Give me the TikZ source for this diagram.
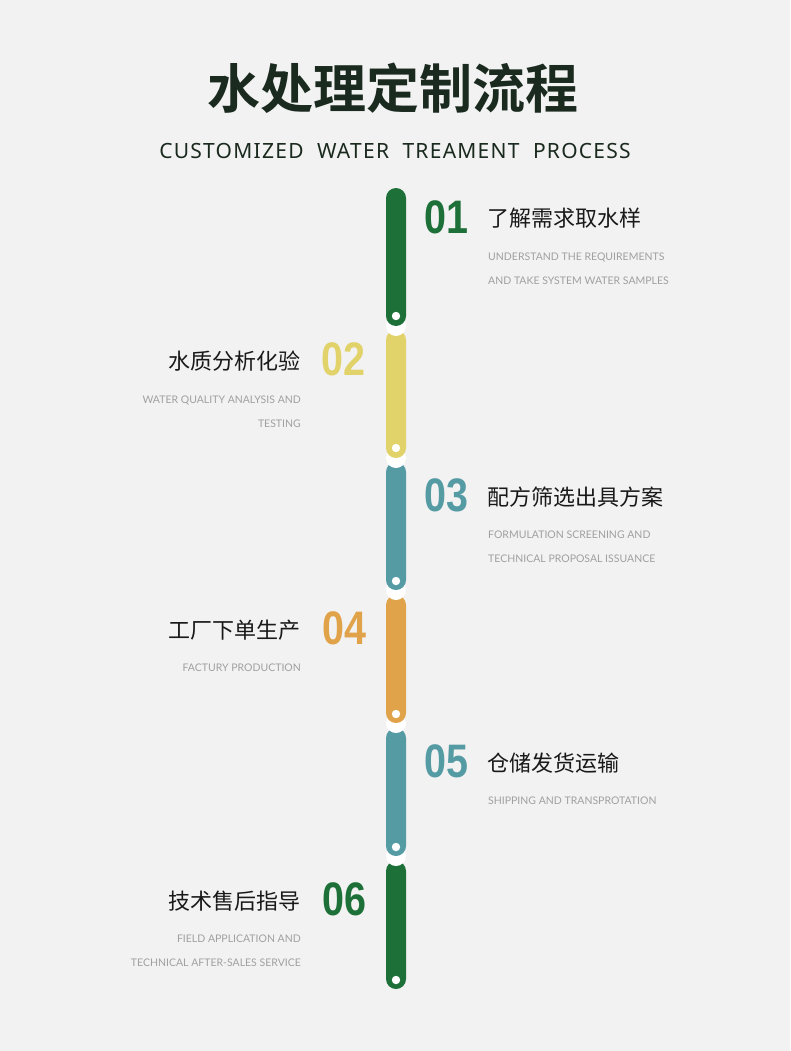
\documentclass[tikz,border=0pt]{standalone}
\usepackage{fontspec}
\setmainfont{Noto Sans}
\newfontfamily\cjk{Noto Sans CJK SC}
\newfontfamily\cjkb{Noto Sans CJK SC Bold}
\newfontfamily\lat{Lato}
\newfontfamily\numf{Liberation Sans}
\newfontfamily\subf{Noto Sans}[LetterSpace=6]
\definecolor{bg}{HTML}{F2F2F2}
\definecolor{cg}{HTML}{1E7039}
\definecolor{cy}{HTML}{E1D26A}
\definecolor{ct}{HTML}{559BA4}
\definecolor{co}{HTML}{E0A34A}
\definecolor{ink}{HTML}{1A2A1E}
\definecolor{gr}{HTML}{A0A0A0}
\tikzset{
 num/.style={font=\numf\fontsize{47}{47}\selectfont\bfseries, inner sep=0},
 zh/.style={font=\cjk\fontsize{22}{22}\selectfont, text=black!90, inner sep=0},
 en/.style={font=\lat\fontsize{10.5}{10.5}\selectfont, text=gr, inner sep=0},
}
\begin{document}
\begin{tikzpicture}[x=1pt,y=-1pt]
\fill[bg] (0,0) rectangle (790,1051);
\useasboundingbox (0,0) rectangle (790,1051);
\node (title) at (393,88) [font=\cjkb\fontsize{53}{53}\selectfont, text=ink] {水处理定制流程};
\node (sub) at (395,151) [font=\subf\fontsize{21}{21}\selectfont, text=ink] {CUSTOMIZED\ \ WATER\ \ TREAMENT\ \ PROCESS};
\begin{scope}
\fill[cg, rounded corners=10pt] (386,861) rectangle (406,989);
\fill[white] (396,856) circle (10);
\fill[white] (396,980) circle (4.2);
\fill[ct, rounded corners=10pt] (386,728) rectangle (406,856);
\fill[white] (396,847) circle (4.2);
\fill[white] (396,723) circle (10);
\fill[co, rounded corners=10pt] (386,595) rectangle (406,723);
\fill[white] (396,714) circle (4.2);
\fill[white] (396,590) circle (10);
\fill[ct, rounded corners=10pt] (386,462) rectangle (406,590);
\fill[white] (396,581) circle (4.2);
\fill[white] (396,458) circle (10);
\fill[cy, rounded corners=10pt] (386,330) rectangle (406,458);
\fill[white] (396,448) circle (4.2);
\fill[white] (396,326) circle (10);
\fill[cg, rounded corners=10pt] (386,188) rectangle (406,326);
\fill[white] (396,316) circle (4.2);
\end{scope}
\node[num, text=cg, anchor=west] (n1) at (424,217) {\scalebox{0.84}[1]{01}};
\node[zh, anchor=west] (t1) at (487,218) {了解需求取水样};
\node[en, anchor=west] (e1a) at (488,257) {UNDERSTAND THE REQUIREMENTS};
\node[en, anchor=west] (e1b) at (488,281) {AND TAKE SYSTEM WATER SAMPLES};
\node[num, text=cy, anchor=east] (n2) at (366,359) {\scalebox{0.84}[1]{02}};
\node[zh, anchor=east] (t2) at (301,361) {水质分析化验};
\node[en, anchor=east] (e2a) at (301,400) {WATER QUALITY ANALYSIS AND};
\node[en, anchor=east] (e2b) at (301,424) {TESTING};
\node[num, text=ct, anchor=west] (n3) at (424,495) {\scalebox{0.84}[1]{03}};
\node[zh, anchor=west] (t3) at (487,497) {配方筛选出具方案};
\node[en, anchor=west] (e3a) at (488,535) {FORMULATION SCREENING AND};
\node[en, anchor=west] (e3b) at (488,559) {TECHNICAL PROPOSAL ISSUANCE};
\node[num, text=co, anchor=east] (n4) at (367,628) {\scalebox{0.84}[1]{04}};
\node[zh, anchor=east] (t4) at (301,630) {工厂下单生产};
\node[en, anchor=east] (e4a) at (301,668) {FACTURY PRODUCTION};
\node[num, text=ct, anchor=west] (n5) at (424,761) {\scalebox{0.84}[1]{05}};
\node[zh, anchor=west] (t5) at (487,763) {仓储发货运输};
\node[en, anchor=west] (e5a) at (488,801) {SHIPPING AND TRANSPROTATION};
\node[num, text=cg, anchor=east] (n6) at (367,899) {\scalebox{0.84}[1]{06}};
\node[zh, anchor=east] (t6) at (301,901) {技术售后指导};
\node[en, anchor=east] (e6a) at (301,939) {FIELD APPLICATION AND};
\node[en, anchor=east] (e6b) at (301,963) {TECHNICAL AFTER-SALES SERVICE};
\end{tikzpicture}
\end{document}
